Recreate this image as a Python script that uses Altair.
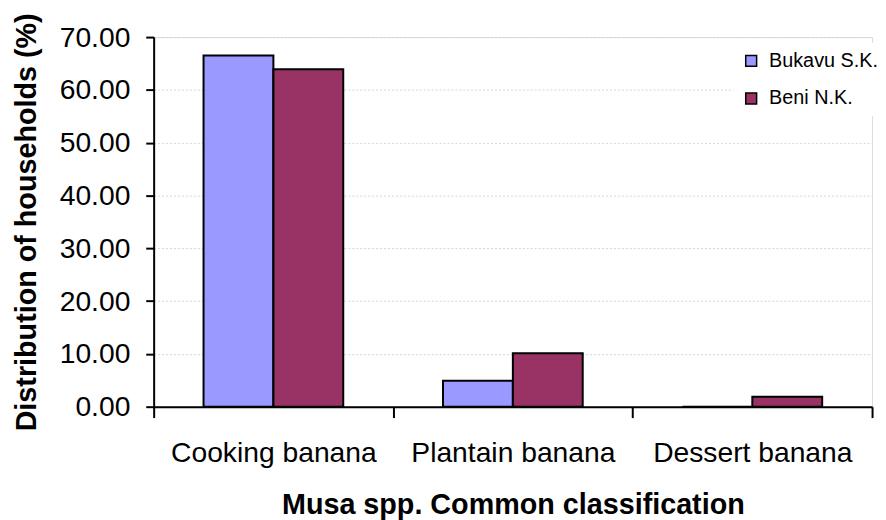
import altair as alt
import pandas as pd

categories = ["Cooking banana", "Plantain banana", "Dessert banana"]
sites = ["Bukavu S.K.", "Beni N.K."]
bukavu = [66.5, 4.9, 0.0]
beni = [63.9, 10.1, 1.9]
colors = ["#9999FF", "#993366"]
y_ticks = [0, 10, 20, 30, 40, 50, 60, 70]

rows = []
for c, b, n in zip(categories, bukavu, beni):
    rows.append({"category": c, "site": sites[0], "value": b})
    rows.append({"category": c, "site": sites[1], "value": n})
df = pd.DataFrame(rows)

FONT = "Liberation Sans"

chart = alt.Chart(df).mark_bar(stroke="black", strokeWidth=2).encode(
    x=alt.X(
        "category:N",
        sort=categories,
        scale=alt.Scale(paddingInner=0, paddingOuter=0),
        axis=alt.Axis(
            title="Musa spp. Common classification",
            labelAngle=0,
            labelLimit=0,
            tickBand="extent",
            tickSize=11,
            tickWidth=2,
            tickColor="black",
            domainColor="black",
            domainWidth=2,
            labelFontSize=28.5,
            labelPadding=21,
            titleFontSize=29,
            titlePadding=24,
            grid=False,
        ),
    ),
    xOffset=alt.XOffset("site:N", sort=sites, scale=alt.Scale(paddingInner=0, paddingOuter=0.714)),
    y=alt.Y(
        "value:Q",
        scale=alt.Scale(domain=[0, 70], nice=False),
        axis=alt.Axis(
            title="Distribution of households (%)",
            values=y_ticks,
            format=".2f",
            tickSize=8,
            tickWidth=2,
            tickColor="black",
            domainColor="black",
            domainWidth=2,
            labelFontSize=28.5,
            labelPadding=16,
            titleFontSize=29,
            titlePadding=18,
            grid=True,
            gridColor="#d4d4d4",
            gridDash=[2, 2],
            gridWidth=1,
        ),
    ),
    color=alt.Color(
        "site:N",
        sort=sites,
        scale=alt.Scale(domain=sites, range=colors),
        legend=alt.Legend(
            title=None,
            orient="none",
            legendX=585,
            legendY=6,
            symbolType="square",
            symbolSize=121,
            symbolStrokeColor="black",
            symbolStrokeWidth=1.5,
            symbolOpacity=1,
            labelFontSize=20,
            labelFont=FONT,
            labelColor="black",
            labelOffset=8,
            labelLimit=0,
            rowPadding=18,
            padding=8,
            fillColor="white",
        ),
    ),
).properties(
    width=725,
    height=373,
    autosize="none",
    padding={"left": 147, "top": 27, "right": 6, "bottom": 112},
).configure_axis(
    labelFont=FONT,
    titleFont=FONT,
    labelColor="black",
    titleColor="black",
    titleFontWeight="bold",
).configure_view(strokeWidth=0).configure(background="white")

chart.save("out.html", embed_options={"renderer": "svg", "actions": False})
